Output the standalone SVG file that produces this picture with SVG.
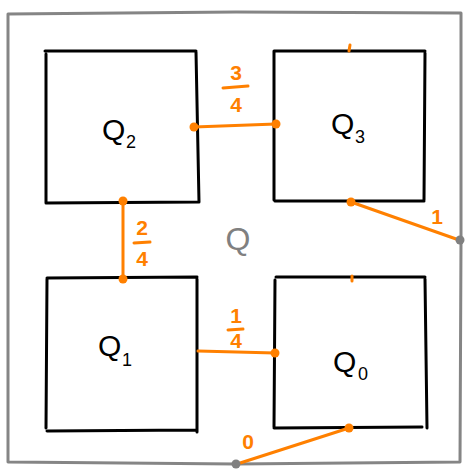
<svg xmlns="http://www.w3.org/2000/svg" width="467" height="476" viewBox="0 0 467 476">
  <style>
    .frame { fill: none; stroke: #858585; stroke-width: 3; stroke-linecap: round; stroke-linejoin: round; }
    .box { fill: none; stroke: #000; stroke-width: 3; stroke-linecap: round; stroke-linejoin: round; }
    .edge { fill: none; stroke: #ff8000; stroke-width: 3; stroke-linecap: round; }
    .dot { fill: #ff8000; }
    .gdot { fill: #808080; }
    .lbl { font-family: "Liberation Sans", "DejaVu Sans", sans-serif; fill: #000; }
    .num { font-family: "Liberation Sans", "DejaVu Sans", sans-serif; font-weight: bold; fill: #ff8000; font-size: 21px; text-anchor: middle; }
  </style>
  <rect width="467" height="476" fill="#fff"/>

  <!-- outer region Q -->
  <g id="Q">
    <path class="frame" d="M8 14 L236 12 L461 13 L461 240 L460 462 L236 464 L8 462 L8 14"/>
    <text x="238" y="250" font-family="Liberation Sans, DejaVu Sans, sans-serif" font-size="32" fill="#808080" text-anchor="middle">Q</text>
  </g>

  <g id="Q2">
    <path class="box" d="M45 51 L196 51 M196 52 L199 202 M199 202 L46 203 M46 203 L46 54"/>
    <text class="lbl" x="102" y="140" font-size="30">Q</text>
    <text class="lbl" x="126" y="148" font-size="18">2</text>
  </g>

  <g id="Q3">
    <path class="box" d="M274 51 L425 51 M425 53 L424 200 M424 201 L275 201 M274 200 L274 51"/>
    <text class="lbl" x="331" y="134" font-size="30">Q</text>
    <text class="lbl" x="355" y="143" font-size="18">3</text>
  </g>

  <g id="Q1">
    <path class="box" d="M47 278 L197 277 M197 279 L197 432 M196 430 L47 431 M46 428 L47 279"/>
    <text class="lbl" x="98" y="356" font-size="30">Q</text>
    <text class="lbl" x="122" y="366" font-size="18">1</text>
  </g>

  <g id="Q0">
    <path class="box" d="M276 277 L425 277 M425 279 L427 428 M422 427 L274 428 M274 427 L275 280"/>
    <text class="lbl" x="333" y="372" font-size="30">Q</text>
    <text class="lbl" x="358" y="380" font-size="18">0</text>
  </g>

  <g id="connectors">
    <!-- Q2 to Q3, weight 3/4 -->
    <path class="edge" d="M194 127 L276 124"/>
    <circle class="dot" cx="194" cy="127" r="4.5"/>
    <circle class="dot" cx="276" cy="124" r="4.5"/>
    <text class="num" x="236" y="80">3</text>
    <path class="edge" d="M223 88 L248 86"/>
    <text class="num" x="236" y="112">4</text>

    <!-- Q2 to Q1, weight 2/4 -->
    <path class="edge" d="M123 201 L123 279"/>
    <circle class="dot" cx="123" cy="201" r="4.5"/>
    <circle class="dot" cx="123" cy="279" r="4.5"/>
    <text class="num" x="142" y="235">2</text>
    <path class="edge" d="M134 243 L150 242"/>
    <text class="num" x="142" y="266">4</text>

    <!-- Q1 to Q0, weight 1/4 -->
    <path class="edge" d="M198 351 L275 353"/>
    <circle class="dot" cx="275" cy="353" r="4.5"/>
    <text class="num" x="236" y="323">1</text>
    <path class="edge" d="M228 330 L243 329"/>
    <text class="num" x="236" y="348">4</text>

    <!-- Q3 to outer frame, weight 1 -->
    <path class="edge" d="M351 202 L459 240"/>
    <circle class="dot" cx="351" cy="202" r="4.5"/>
    <circle class="gdot" cx="460" cy="240" r="4.5"/>
    <text class="num" x="437" y="224">1</text>

    <!-- Q0 to outer frame, weight 0 -->
    <path class="edge" d="M349 428 L237 464"/>
    <circle class="dot" cx="349" cy="428" r="4.5"/>
    <circle class="gdot" cx="236" cy="464" r="4.5"/>
    <text class="num" x="248" y="449">0</text>

    <!-- tick marks -->
    <path class="edge" d="M350 45 L349 51"/>
    <path class="edge" d="M352 276 L352 281"/>
  </g>
</svg>
